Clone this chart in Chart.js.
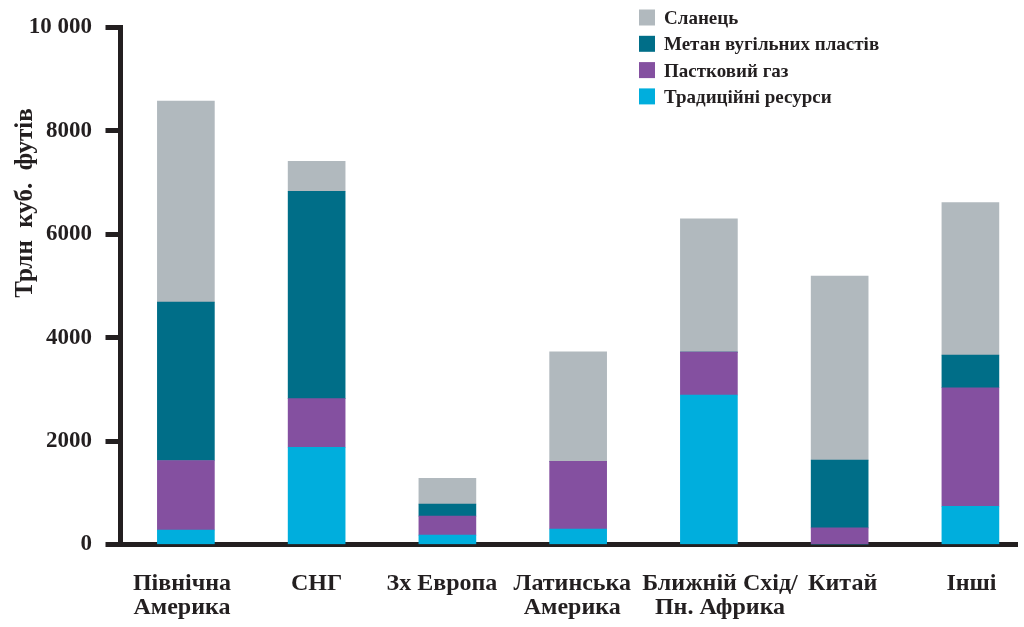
<!DOCTYPE html>
<html>
<head>
<meta charset="utf-8">
<script src="https://cdn.jsdelivr.net/npm/chart.js@4/dist/chart.umd.min.js"></script>
<style>
  html, body { margin: 0; padding: 0; background: #ffffff; overflow: hidden; }
  #wrap { width: 1024px; height: 627px; position: relative; }
</style>
</head>
<body>
<div id="wrap"><canvas id="gasChart" width="1024" height="627"></canvas></div>
<script>
// Regions along the horizontal axis
const regions = [
  ['Північна', 'Америка'],
  'СНГ',
  'Зх Европа',
  ['Латинська', 'Америка'],
  ['Ближній Схід/', 'Пн. Африка'],
  'Китай',
  'Інші'
];

// Gas resources by type, трлн куб. футів
const traditional    = [280, 1880, 180, 300, 2890, 0, 740];
const tightGas       = [1345, 940, 370, 1310, 830, 320, 2290];
const coalbedMethane = [3060, 4010, 230, 0, 0, 1310, 630];
const shaleGas       = [3890, 580, 500, 2115, 2575, 3560, 2950];

const seriesNames = ['Традиційні ресурси', 'Пастковий газ', 'Метан вугільних пластів', 'Сланець'];
const seriesColors = ['#00aedd', '#8450a0', '#006e88', '#b1b9be'];

const yTickValues = [0, 2000, 4000, 6000, 8000, 10000];
const yTickLabels = ['0', '2000', '4000', '6000', '8000', '10 000'];
const yTitle = 'Трлн  куб.  футів';

const INK = '#231f20';
const SERIF = '"Liberation Serif", "Times New Roman", serif';

// Small horizontal nudges of the region captions so long names do not collide
const captionNudge = [-0.03, 0, -0.042, -0.045, 0.085, 0.023, 0.008];

const toPoints = arr => arr.map((v, i) => ({ x: i, y: v }));

// Vertical legend in the upper right, listed from the top of the stack down
const stackLegend = {
  id: 'stackLegend',
  afterDraw(chart) {
    const ctx = chart.ctx;
    const sets = chart.data.datasets.slice().reverse();
    ctx.save();
    ctx.font = 'bold 19px ' + SERIF;
    ctx.textBaseline = 'middle';
    ctx.textAlign = 'left';
    sets.forEach((ds, i) => {
      const top = 9.5 + i * 26.3;
      ctx.fillStyle = ds.backgroundColor;
      ctx.fillRect(639, top, 16, 16);
      ctx.fillStyle = INK;
      ctx.fillText(ds.label, 664, top + 9.5);
    });
    ctx.restore();
  }
};

// Rotated unit label beside the value axis
const valueAxisTitle = {
  id: 'valueAxisTitle',
  afterDraw(chart) {
    const ctx = chart.ctx;
    ctx.save();
    ctx.translate(25.5, 203);
    ctx.rotate(-Math.PI / 2);
    ctx.font = 'bold 25px ' + SERIF;
    ctx.fillStyle = INK;
    ctx.textAlign = 'center';
    ctx.textBaseline = 'middle';
    ctx.fillText(yTitle, 0, 0);
    ctx.restore();
  }
};

const seriesData = [traditional, tightGas, coalbedMethane, shaleGas];

new Chart(document.getElementById('gasChart'), {
  type: 'bar',
  data: {
    datasets: seriesData.map((arr, i) => ({
      label: seriesNames[i],
      data: toPoints(arr),
      backgroundColor: seriesColors[i],
      borderWidth: 0,
      barThickness: 57
    }))
  },
  options: {
    responsive: false,
    animation: false,
    devicePixelRatio: 1,
    layout: { padding: { top: 24.5, right: 0, bottom: 0, left: 0 } },
    plugins: {
      legend: { display: false },
      tooltip: { enabled: false }
    },
    scales: {
      x: {
        type: 'linear',
        stacked: true,
        offset: false,
        min: -0.5,
        max: 6.358,
        afterBuildTicks(scale) {
          scale.ticks = regions.map((_, i) => ({ value: i + captionNudge[i] }));
        },
        afterFit(scale) { scale.height = 82.5; },
        grid: { display: false, drawTicks: false },
        border: { display: true, width: 5, color: INK },
        ticks: {
          autoSkip: false,
          maxRotation: 0,
          padding: 27.5,
          color: INK,
          font: { family: SERIF, size: 24, weight: 'bold', lineHeight: 1.0 },
          callback: (value) => regions[Math.round(value)]
        }
      },
      y: {
        stacked: true,
        min: 0,
        max: 10000,
        afterBuildTicks(scale) {
          scale.ticks = yTickValues.map(v => ({ value: v }));
        },
        afterFit(scale) { scale.width = 120.5; },
        grid: {
          display: true,
          drawOnChartArea: false,
          drawTicks: true,
          tickLength: 15,
          tickWidth: 5,
          tickColor: INK
        },
        border: { display: true, width: 5, color: INK },
        ticks: {
          padding: 13.5,
          color: INK,
          font: { family: SERIF, size: 23, weight: 'bold' },
          callback: (value) => yTickLabels[yTickValues.indexOf(value)]
        }
      }
    }
  },
  plugins: [stackLegend, valueAxisTitle]
});
</script>
</body>
</html>
